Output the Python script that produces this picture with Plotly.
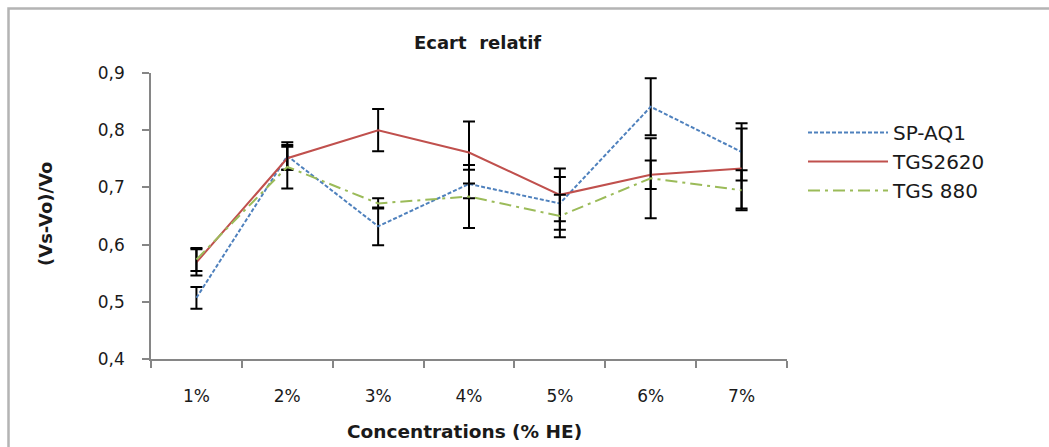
import plotly.graph_objects as go

categories = ["1%", "2%", "3%", "4%", "5%", "6%", "7%"]
sp_aq1 = [0.507, 0.755, 0.632, 0.706, 0.672, 0.841, 0.762]
sp_aq1_err = [0.019, 0.024, 0.033, 0.025, 0.046, 0.050, 0.050]
tgs2620 = [0.569, 0.751, 0.800, 0.761, 0.687, 0.722, 0.733]
tgs2620_err = [0.023, 0.020, 0.037, 0.054, 0.046, 0.025, 0.070]
tgs880 = [0.574, 0.736, 0.672, 0.684, 0.650, 0.716, 0.695]
tgs880_err = [0.020, 0.038, 0.009, 0.055, 0.037, 0.070, 0.035]

FONT = "'DejaVu Sans', sans-serif"
TXT = "#1a1a1a"

def err(vals):
    return dict(type="data", array=vals, visible=True, color="black", thickness=2, width=6)

fig = go.Figure()
fig.add_trace(go.Scatter(x=categories, y=sp_aq1, name="SP-AQ1", mode="lines",
                         line=dict(color="#4F81BD", width=2, dash="4px,2px"), error_y=err(sp_aq1_err)))
fig.add_trace(go.Scatter(x=categories, y=tgs2620, name="TGS2620", mode="lines",
                         line=dict(color="#C0504D", width=2, dash="solid"), error_y=err(tgs2620_err)))
fig.add_trace(go.Scatter(x=categories, y=tgs880, name="TGS 880", mode="lines",
                         line=dict(color="#9BBB59", width=2, dash="12px,5px,3px,5px"), error_y=err(tgs880_err)))

PL, PR, PT, PB = 151, 262, 73, 88
W, H = 1049, 447
pw = W - PL - PR
ph = H - PT - PB

def px(x):
    return (x - PL) / pw

def py(y):
    return (H - PB - y) / ph

fig.update_layout(
    width=W, height=H,
    margin=dict(l=PL, r=PR, t=PT, b=PB),
    paper_bgcolor="white", plot_bgcolor="white",
    separators=", ",
    font=dict(family=FONT, size=17, color=TXT),
    showlegend=True,
    legend=dict(x=px(803), y=py(113), xanchor="left", yanchor="top",
                font=dict(family=FONT, size=20, color=TXT), itemwidth=80,
                bgcolor="rgba(0,0,0,0)", tracegroupgap=0),
    xaxis=dict(type="category", range=[-0.5, len(categories) - 0.5], autorange=False,
               tickson="boundaries", ticks="outside", ticklen=7,
               tickcolor="#868686", tickwidth=1.5, showline=True, linecolor="#868686", linewidth=1.5,
               showgrid=False, zeroline=False, tickfont=dict(size=17, color=TXT),
               ticklabelstandoff=21),
    yaxis=dict(range=[0.4, 0.9], dtick=0.1, tickformat=".1f", ticks="outside", ticklen=7,
               tickcolor="#868686", tickwidth=1.5, showline=True, linecolor="#868686", linewidth=1.5,
               showgrid=False, zeroline=False, tickfont=dict(size=17, color=TXT),
               ticklabelstandoff=14),
    annotations=[
        dict(text="<b>Ecart  relatif</b>", xref="paper", yref="paper", x=px(477), y=py(42),
             xanchor="center", yanchor="middle", showarrow=False,
             font=dict(size=18, color=TXT)),
        dict(text="<b>(Vs-Vo)/Vo</b>", xref="paper", yref="paper", x=px(45), y=py(214),
             xanchor="center", yanchor="middle", textangle=-90, showarrow=False,
             font=dict(size=18, color=TXT)),
        dict(text="<b>Concentrations (% HE)</b>", xref="paper", yref="paper", x=px(464), y=py(431),
             xanchor="center", yanchor="middle", showarrow=False,
             font=dict(size=18.5, color=TXT)),
    ],
    shapes=[
        dict(type="rect", xref="paper", yref="paper",
             x0=px(8.5), x1=px(1070), y0=py(470), y1=py(8.5),
             line=dict(color="#B4B4B4", width=2.5), fillcolor="rgba(0,0,0,0)", layer="below"),
    ],
)

fig.write_html("out.html", config={"displayModeBar": False},
               post_script="document.body.style.margin='0';document.body.style.overflow='hidden';")
